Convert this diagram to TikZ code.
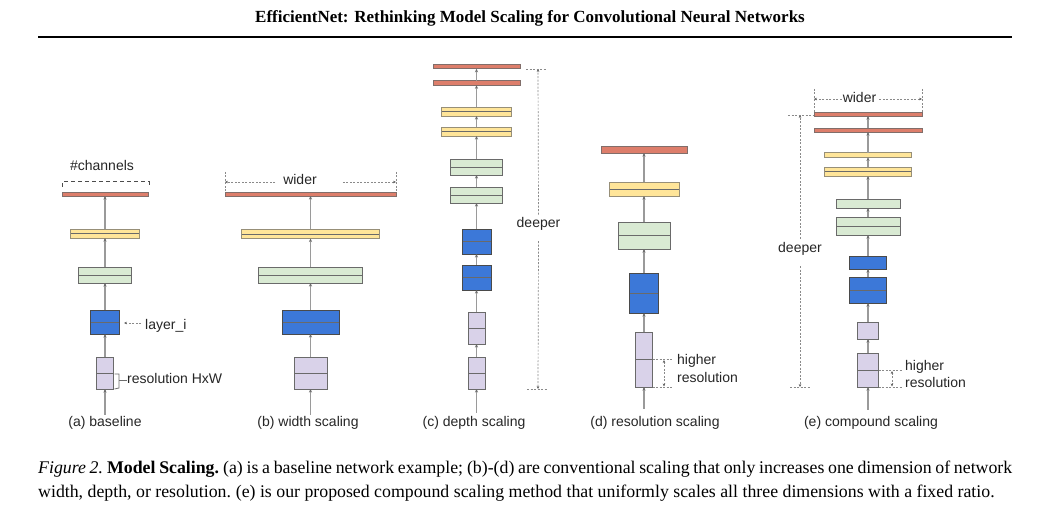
\documentclass[tikz,border=0pt]{standalone}
\usepackage{fontspec}
\setmainfont{Liberation Serif}
\setsansfont{Liberation Sans}
\usetikzlibrary{arrows.meta}
\definecolor{cred}{HTML}{DD7E6B}
\definecolor{cyel}{HTML}{FFE599}
\definecolor{cgrn}{HTML}{D9EAD3}
\definecolor{cblu}{HTML}{3C78D8}
\definecolor{cpur}{HTML}{D9D2E9}
\definecolor{edge}{HTML}{6A6A6A}
\definecolor{arr}{HTML}{9A9A9A}
\definecolor{anno}{HTML}{8A8A8A}
\tikzset{
  lay/.style={draw=edge, line width=0.9pt, inner sep=0pt, outer sep=0pt, rectangle},
  split/.style={path picture={\draw[edge,line width=0.9pt] (path picture bounding box.west) -- (path picture bounding box.east);}},
  rbar/.style={lay, fill=cred, draw=edge!80!cred},
  ybar/.style={lay, fill=cyel, draw=edge!70!cyel, split},
  gbox/.style={lay, fill=cgrn},
  bbox/.style={lay, fill=cblu, draw=edge!70!black},
  pbox/.style={lay, fill=cpur},
  conn/.style={draw=arr, line width=1.1pt, -{Stealth[length=3.5pt,width=3pt,color=edge]}},
  anno/.style={draw=anno, line width=0.7pt, dash pattern=on 2pt off 1.5pt},
  annoarr/.style={anno, -{Stealth[length=3pt,width=2.6pt,color=anno!70!black]}},
  annodbl/.style={anno, {Stealth[length=3pt,width=2.6pt,color=anno!70!black]}-{Stealth[length=3pt,width=2.6pt,color=anno!70!black]}},
  lbl/.style={font=\sffamily\fontsize{14}{16}\selectfont, inner sep=0pt, text=black!85},
}
\begin{document}
\begin{tikzpicture}[x=1pt,y=-1pt]
\useasboundingbox (0,0) rectangle (1053,518);
\fill[white] (0,0) rectangle (1053,518);

% title and rule
\node[anchor=base, inner sep=0pt] (title) at (530,23) {\fontsize{17}{20}\selectfont\bfseries EfficientNet: Rethinking Model Scaling for Convolutional Neural Networks};
\draw[line width=2pt] (38,37.5) -- (1012,37.5);

% ---------- (a) baseline ----------
\node[rbar, minimum width=86pt, minimum height=4pt] (aR) at (105,194) {};
\node[ybar, minimum width=69pt, minimum height=9pt] (aY) at (105,233.5) {};
\node[gbox, split, minimum width=53pt, minimum height=16pt] (aG) at (105,275) {};
\node[bbox, split, minimum width=29pt, minimum height=24pt] (aB) at (105,322) {};
\node[pbox, split, minimum width=17pt, minimum height=32pt] (aP) at (105,373) {};
\coordinate (aIn) at (105,415);
\draw[conn] (aIn) -- (aP);
\draw[conn] (aP) -- (aB);
\draw[conn] (aB) -- (aG);
\draw[conn] (aG) -- (aY);
\draw[conn] (aY) -- (aR);
\node[lbl, anchor=base] (aL) at (105,427) {(a) baseline};
% #channels
\node[lbl, anchor=base] (aCh) at (102,171) {\#channels};
\draw[draw=black!70, line width=1pt, dash pattern=on 4pt off 3pt] (62,187) -- (62,182) -- (149,182) -- (149,187);
\coordinate (aTop) at (105,182);
\draw[conn, draw=none] ([yshift=-3pt]aR.north) -- (aTop);
% layer_i
\node[lbl, anchor=base west] (aLay) at (145,330) {layer\_i};
\coordinate (aLayS) at (141,323);
\coordinate (aLayE) at (124,323);
\draw[annoarr] (aLayS) -- (aLayE);
% resolution HxW
\node[lbl, anchor=base west] (aRes) at (127,384) {resolution HxW};
\draw[draw=anno!80!black, line width=0.8pt] ([xshift=1pt]aP.east |- 0,374) -- (119,374) -- (119,388) -- ([xshift=1pt]aP.south east);
\draw[draw=anno!80!black, line width=0.8pt] (119,380) -- (aRes.west |- 0,380);

% ---------- (b) width scaling ----------
\node[rbar, minimum width=171pt, minimum height=4pt] (bR) at (310.5,194) {};
\node[ybar, minimum width=138pt, minimum height=9pt] (bY) at (310.5,234) {};
\node[gbox, split, minimum width=104pt, minimum height=16pt] (bG) at (310.5,275) {};
\node[bbox, split, minimum width=57pt, minimum height=24pt] (bB) at (310.5,322) {};
\node[pbox, split, minimum width=33pt, minimum height=32pt] (bP) at (310.5,373) {};
\coordinate (bIn) at (310.5,415);
\draw[conn] (bIn) -- (bP);
\draw[conn] (bP) -- (bB);
\draw[conn] (bB) -- (bG);
\draw[conn] (bG) -- (bY);
\draw[conn] (bY) -- (bR);
\node[lbl, anchor=base] (bL) at (308,427) {(b) width scaling};
\node[lbl, anchor=base] (bW) at (300,185) {wider};
\coordinate (bWl) at (225,182);
\coordinate (bWr) at (396,182);
\draw[annoarr] (bW.west |- bWl) ++(-8,0) -- (bWl);
\draw[annoarr] (bW.east |- bWr) ++(26,0) -- (bWr);
\draw[anno] (225,172) -- (bR.north west);
\draw[anno] (396,172) -- (bR.north east);

% ---------- (c) depth scaling ----------
\node[rbar, minimum width=87pt, minimum height=4.5pt] (cR2) at (476.5,66.5) {};
\node[rbar, minimum width=87pt, minimum height=4.5pt] (cR1) at (476.5,83) {};
\node[ybar, minimum width=70pt, minimum height=9pt] (cY2) at (476.5,111.5) {};
\node[ybar, minimum width=70pt, minimum height=9pt] (cY1) at (476.5,131.5) {};
\node[gbox, split, minimum width=52pt, minimum height=16pt] (cG2) at (476.5,167) {};
\node[gbox, split, minimum width=52pt, minimum height=16pt] (cG1) at (476.5,195) {};
\node[bbox, split, minimum width=29pt, minimum height=25pt] (cB2) at (476.5,241.5) {};
\node[bbox, split, minimum width=29pt, minimum height=25pt] (cB1) at (476.5,277.5) {};
\node[pbox, split, minimum width=17pt, minimum height=32pt] (cP2) at (476.5,328) {};
\node[pbox, split, minimum width=17pt, minimum height=32pt] (cP1) at (476.5,373) {};
\coordinate (cIn) at (476.5,413);
\draw[conn] (cIn) -- (cP1);
\draw[conn] (cP1) -- (cP2);
\draw[conn] (cP2) -- (cB1);
\draw[conn] (cB1) -- (cB2);
\draw[conn] (cB2) -- (cG1);
\draw[conn] (cG1) -- (cG2);
\draw[conn] (cG2) -- (cY1);
\draw[conn] (cY1) -- (cY2);
\draw[conn] (cY2) -- (cR1);
\draw[conn] (cR1) -- (cR2);
\node[lbl, anchor=base] (cL) at (474,427) {(c) depth scaling};
\node[lbl, anchor=base] (cD) at (538.5,228) {deeper};
\coordinate (cDt) at (538,69);
\coordinate (cDb) at (538,389);
\draw[annoarr] (cD.north) ++(0,-3) -- (cDt);
\draw[annoarr] (cD.south) ++(0,10) -- (cDb);
\draw[anno] (526,69) -- (547,69);
\draw[anno] (527,389) -- (548,389);

% ---------- (d) resolution scaling ----------
\node[rbar, minimum width=86pt, minimum height=7pt] (dR) at (644,149.5) {};
\node[ybar, minimum width=70pt, minimum height=14pt] (dY) at (644,189) {};
\node[gbox, split, minimum width=52pt, minimum height=27pt] (dG) at (644,235.5) {};
\node[bbox, split, minimum width=29pt, minimum height=40pt] (dB) at (644,293) {};
\node[pbox, split, minimum width=17pt, minimum height=55pt] (dP) at (644,359.5) {};
\coordinate (dIn) at (644,409);
\draw[conn] (dIn) -- (dP);
\draw[conn] (dP) -- (dB);
\draw[conn] (dB) -- (dG);
\draw[conn] (dG) -- (dY);
\draw[conn] (dY) -- (dR);
\node[lbl, anchor=base] (dL) at (655,427) {(d) resolution scaling};
\node[lbl, anchor=base west] (dH1) at (677,365) {higher};
\node[lbl, anchor=base west] (dH2) at (677,383) {resolution};
\draw[anno] (dP.east) -- (673,359.5);
\draw[anno] (dP.south east) -- (673,387);
\draw[annodbl] (664,360) -- (664,386.5);

% ---------- (e) compound scaling ----------
\node[rbar, minimum width=108pt, minimum height=4pt] (eR2) at (868,114) {};
\node[rbar, minimum width=108pt, minimum height=4pt] (eR1) at (868,130) {};
\node[lay, fill=cyel, draw=edge!70!cyel, minimum width=87pt, minimum height=4.5pt] (eY2) at (868,155) {};
\node[ybar, minimum width=87pt, minimum height=9pt] (eY1) at (868,171.5) {};
\node[gbox, minimum width=64pt, minimum height=9pt] (eG2) at (868,203.5) {};
\node[gbox, split, minimum width=64pt, minimum height=18pt] (eG1) at (868,226) {};
\node[bbox, minimum width=37pt, minimum height=13pt] (eB2) at (868,262.5) {};
\node[bbox, split, minimum width=37pt, minimum height=26pt] (eB1) at (868,290) {};
\node[pbox, minimum width=21pt, minimum height=17pt] (eP2) at (868,330.5) {};
\node[pbox, split, minimum width=21pt, minimum height=34pt] (eP1) at (868,370) {};
\coordinate (eIn) at (868,410);
\draw[conn] (eIn) -- (eP1);
\draw[conn] (eP1) -- (eP2);
\draw[conn] (eP2) -- (eB1);
\draw[conn] (eB1) -- (eB2);
\draw[conn] (eB2) -- (eG1);
\draw[conn] (eG1) -- (eG2);
\draw[conn] (eG2) -- (eY1);
\draw[conn] (eY1) -- (eY2);
\draw[conn] (eY2) -- (eR1);
\draw[conn] (eR1) -- (eR2);
\node[lbl, anchor=base] (eL) at (871,427) {(e) compound scaling};
% wider
\node[lbl, anchor=base] (eW) at (859.5,103) {wider};
\coordinate (eWl) at (814,99);
\coordinate (eWr) at (922,99);
\draw[annoarr] (eW.west |- eWl) ++(-1,0) -- (eWl);
\draw[annoarr] (eW.east |- eWr) ++(3,0) -- (eWr);
\draw[anno] (814,89) -- (eR2.north west);
\draw[anno] (922,89) -- (eR2.north east);
% deeper
\node[lbl, anchor=base] (eD) at (800,253) {deeper};
\coordinate (eDt) at (800,115);
\coordinate (eDb) at (800,387);
\draw[annoarr] (eD.north) ++(0,-4) -- (eDt);
\draw[annoarr] (eD.south) ++(0,10) -- (eDb);
\draw[anno] (788,115) -- (813,115);
\draw[anno] (790,387) -- (811,387);
% higher resolution
\node[lbl, anchor=base west] (eH1) at (905,371) {higher};
\node[lbl, anchor=base west] (eH2) at (905,388) {resolution};
\draw[anno] (eP1.east) -- (903,370);
\draw[anno] (eP1.south east) -- (903,387);
\draw[annodbl] (892,371) -- (892,386.5);

% caption
\node[anchor=base west, inner sep=0pt] (cap) at (38,474) {\parbox[t]{974pt}{\fontsize{17.8}{24}\selectfont\hyphenpenalty=10000\exhyphenpenalty=10000\spaceskip=0.25em plus 0.3em minus 0.19em\xspaceskip=0.27em plus 0.3em minus 0.19em \textit{Figure 2.} \textbf{Model Scaling.} (a) is a baseline network example; (b)-(d) are conventional scaling that only increases one dimension of network\linebreak width, depth, or resolution. (e) is our proposed compound scaling method that uniformly scales all three dimensions with a fixed ratio.}};
\end{tikzpicture}
\end{document}
